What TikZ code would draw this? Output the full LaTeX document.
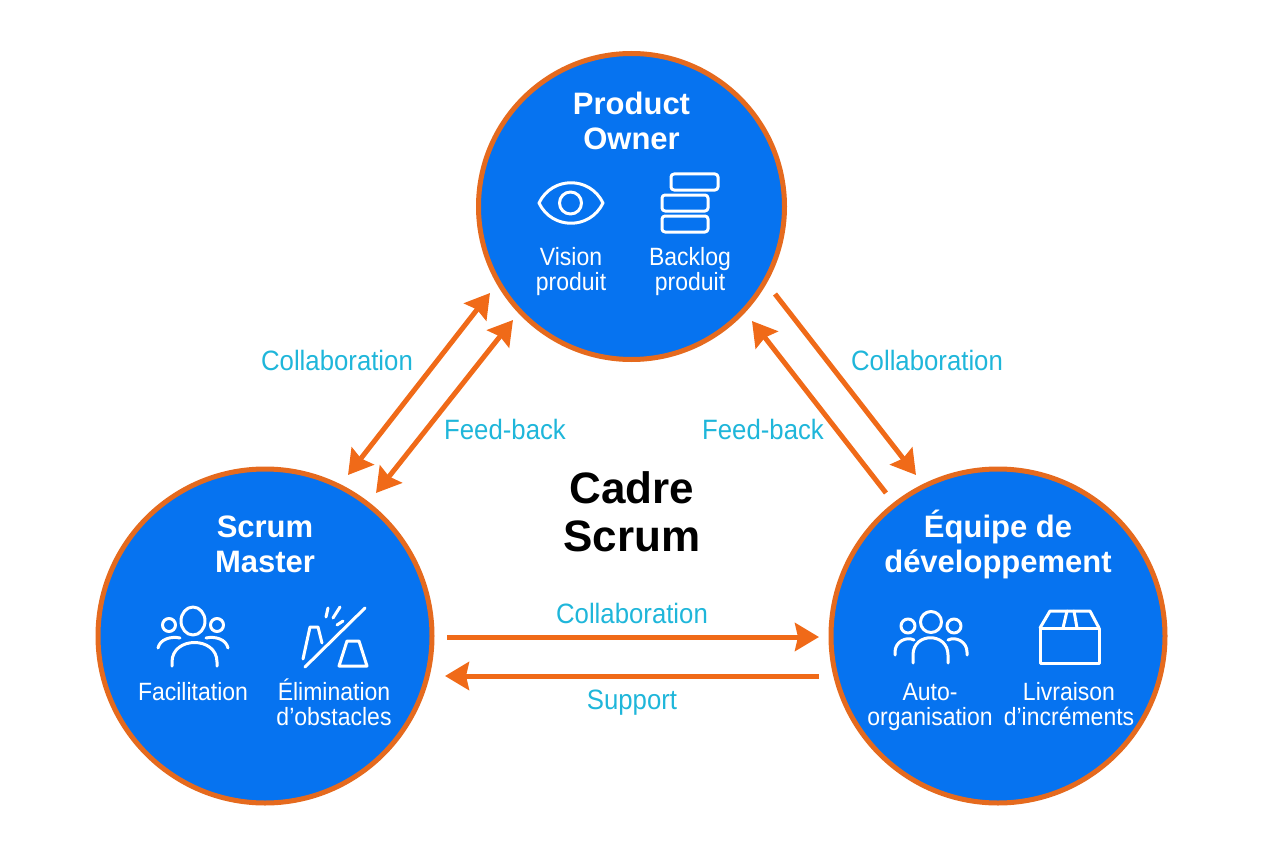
\documentclass[tikz,border=0pt]{standalone}
\usepackage{fontspec}
\usepackage{tikz}
\usetikzlibrary{positioning,arrows.meta}
\setmainfont{Liberation Sans}
\newfontfamily\condfont[FakeStretch=0.92]{Liberation Sans}
\definecolor{roleblue}{HTML}{0673F0}
\definecolor{ringorange}{HTML}{E56A1E}
\definecolor{arroworange}{HTML}{F06A18}
\definecolor{linkcyan}{HTML}{1FB6DA}
\tikzset{
  role/.style={circle, draw=ringorange, line width=5pt, fill=roleblue, inner sep=0pt},
  title/.style={text=white, align=center, inner sep=0pt, font=\fontsize{31}{35}\selectfont\bfseries},
  skill/.style={text=white, align=center, inner sep=0pt, font=\condfont\fontsize{25}{25}\selectfont},
  linklabel/.style={text=linkcyan, inner sep=0pt, font=\condfont\fontsize{28}{28}\selectfont},
  flow/.style={draw=arroworange, line width=5pt, -{Stealth[length=24pt,width=28pt,inset=3pt]}},
  twoflow/.style={flow, {Stealth[length=24pt,width=28pt,inset=3pt]}-{Stealth[length=24pt,width=28pt,inset=3pt]}},
  icon/.style={draw=white, line width=3pt, line cap=round, line join=round}
}
\begin{document}
\begin{tikzpicture}[x=1pt, y=-1pt]
  \useasboundingbox (0,0) rectangle (1264,848);

  \node[role, minimum size=306pt] (po) at (631.5,206.5) {};
  \node[role, minimum size=334pt] (sm) at (265,636) {};
  \node[role, minimum size=334pt] (dev) at (998,636) {};

  \node[title, above=56pt of po.center] (potitle) {Product\\Owner};
  \node[title, above=63pt of sm.center] (smtitle) {Scrum\\Master};
  \node[title, above=57pt of dev.center] (devtitle) {Équipe de\\développement};

  \node[skill, below=41pt of po.center, xshift=-60.5pt] (vision) {Vision\\produit};
  \node[skill, below=41pt of po.center, xshift=58.5pt] (backlog) {Backlog\\produit};
  \node[skill, below=46pt of sm.center, xshift=-72pt] (facil) {Facilitation};
  \node[skill, below=43pt of sm.center, xshift=69pt] (elim) {Élimination\\d’obstacles};
  \node[skill, below=47pt of dev.center, xshift=-68pt] (auto) {Auto-\\organisation};
  \node[skill, below=46pt of dev.center, xshift=71pt] (livr) {Livraison\\d’incréments};

  \node[font=\fontsize{44}{48}\selectfont\bfseries, align=center, inner sep=0pt] (cadre) at (632,512) {Cadre\\Scrum};

  \node[linklabel] (collableft) at (337,360) {Collaboration};
  \node[linklabel] (fbleft) at (505,429) {Feed-back};
  \node[linklabel] (collabright) at (927,360) {Collaboration};
  \node[linklabel] (fbright) at (763,429) {Feed-back};
  \node[linklabel] (collabbottom) at (632,613) {Collaboration};
  \node[linklabel] (support) at (632,703) {Support};

  \coordinate (a1) at (490,293);
  \coordinate (a2) at (348,475);
  \coordinate (b1) at (513,320);
  \coordinate (b2) at (376,493);
  \coordinate (c1) at (775,294);
  \coordinate (c2) at (916,475);
  \coordinate (d1) at (886,493);
  \coordinate (d2) at (752,321);
  \coordinate (e1) at (447,637);
  \coordinate (e2) at (819,637);
  \coordinate (f1) at (819,676);
  \coordinate (f2) at (445,676);

  % Connect the nodes
  \draw[twoflow] (a2) -- (a1);
  \draw[twoflow] (b2) -- (b1);
  \draw[flow] (c1) -- (c2);
  \draw[flow] (d1) -- (d2);
  \draw[flow] (e1) -- (e2);
  \draw[flow] (f1) -- (f2);

  % Icons
  \begin{scope}[icon]
    \draw (539,203) .. controls (552,176) and (590,176) .. (603,203)
      .. controls (590,230) and (552,230) .. (539,203) -- cycle;
    \draw (570.5,203) circle[radius=11];

    \draw[rounded corners=3pt] (671,174) rectangle (718,190);
    \draw[rounded corners=3pt] (662,195) rectangle (708,211);
    \draw[rounded corners=3pt] (662,216) rectangle (708,232);

    \draw (193,621) ellipse[x radius=12, y radius=14];
    \draw (169,625) circle[radius=6.5];
    \draw (217,625) circle[radius=6.5];
    \draw (172,666) -- (172,662) .. controls (172,636) and (217,636) .. (217,662) -- (217,666);
    \draw (158,648) .. controls (160,639) and (171,636) .. (180,638);
    \draw (228,648) .. controls (226,639) and (215,636) .. (206,638);

    \draw (305,667) -- (365,608);
    \draw (303,659) -- (310,627) -- (318,627) -- (322,643);
    \draw (347,641) -- (359,641) -- (367,666) -- (339,666) -- cycle;
    \draw (326,617) -- (328,608);
    \draw (333,618) -- (340,607);
    \draw (337,625) -- (343,621);

    \draw (931,622) circle[radius=10.5];
    \draw (908,626) circle[radius=7];
    \draw (954,626) circle[radius=7];
    \draw (913,663) -- (913,655) .. controls (913,632) and (948,632) .. (948,655) -- (948,663);
    \draw (895,655) -- (895,652) .. controls (895,642) and (906,636) .. (914,640);
    \draw (967,655) -- (967,652) .. controls (967,642) and (956,636) .. (948,640);

    \draw (1040,628) rectangle (1099,663);
    \draw (1040,628) -- (1050,611) -- (1090,611) -- (1099,628);
    \draw (1063,628) -- (1067,611);
    \draw (1077,628) -- (1074,611);
  \end{scope}
\end{tikzpicture}
\end{document}
